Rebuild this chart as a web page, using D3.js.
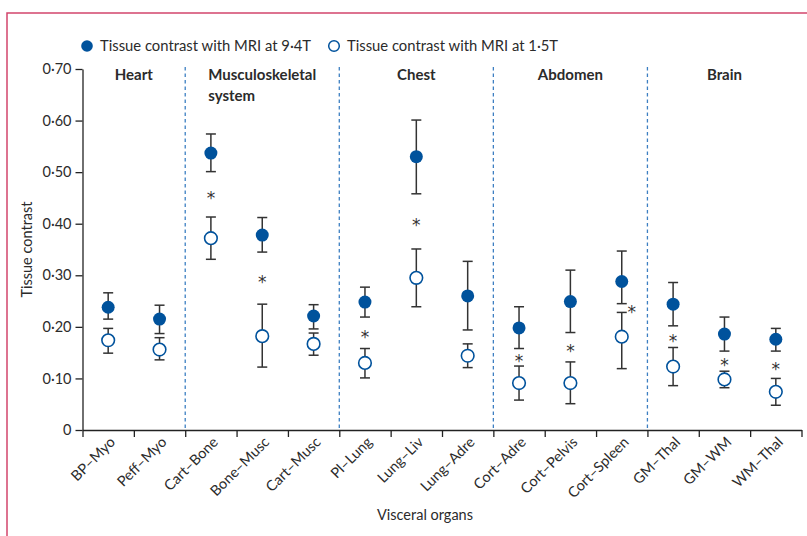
<!DOCTYPE html>
<html>
<head>
<meta charset="utf-8">
<script src="https://cdn.jsdelivr.net/npm/d3@7"></script>
<style>
    body { margin: 0; background: #fff; }
    svg text { font-family: Lato, "Open Sans", sans-serif; fill: #2b2b2b; }
</style>
</head>
<body>
<div id="chart"></div>
<script>
const organList = ["BP–Myo", "Peff–Myo", "Cart–Bone", "Bone–Musc", "Cart–Musc", "Pl–Lung", "Lung–Liv",
    "Lung–Adre", "Cort–Adre", "Cort–Pelvis", "Cort–Spleen", "GM–Thal", "GM–WM", "WM–Thal"];

const groupNames = [["Heart"], ["Musculoskeletal", "system"], ["Chest"], ["Abdomen"], ["Brain"]];
const groupSizes = [2, 3, 3, 3, 3];

// 9.4T: mean, lower and upper error bar
const mean94 = [0.238, 0.215, 0.537, 0.378, 0.221, 0.248, 0.530, 0.260, 0.198, 0.249, 0.288, 0.244, 0.186, 0.176];
const low94 = [0.215, 0.187, 0.501, 0.345, 0.196, 0.219, 0.458, 0.194, 0.158, 0.189, 0.245, 0.202, 0.153, 0.153];
const high94 = [0.266, 0.242, 0.574, 0.412, 0.243, 0.277, 0.601, 0.327, 0.239, 0.310, 0.347, 0.286, 0.219, 0.197];

// 1.5T: mean, lower and upper error bar
const mean15 = [0.174, 0.156, 0.372, 0.182, 0.167, 0.130, 0.295, 0.144, 0.091, 0.091, 0.181, 0.123, 0.098, 0.074];
const low15 = [0.149, 0.136, 0.331, 0.122, 0.145, 0.101, 0.239, 0.121, 0.058, 0.051, 0.119, 0.086, 0.082, 0.048];
const high15 = [0.197, 0.179, 0.413, 0.244, 0.188, 0.158, 0.351, 0.167, 0.124, 0.132, 0.228, 0.160, 0.114, 0.100];

const significant = [false, false, true, true, false, true, true, false, true, true, true, true, true, true];

const yTicks = [0, 0.1, 0.2, 0.3, 0.4, 0.5, 0.6, 0.7];
const legendLabels = ["Tissue contrast with MRI at 9·4T", "Tissue contrast with MRI at 1·5T"];

const blue = "#00529c";
const barColor = "#333";

let width = 807, height = 536;

let data = organList.map((d, i) => ({
    organ: d,
    m94: mean94[i], lo94: low94[i], hi94: high94[i],
    m15: mean15[i], lo15: low15[i], hi15: high15[i],
    sig: significant[i]
}));

let svg = d3.select("#chart").append("svg")
    .attr("width", width)
    .attr("height", height);

// frame
svg.append("path")
    .attr("d", `M7,${height} V13 H${width}`)
    .attr("fill", "none")
    .attr("stroke", "#d2456c")
    .attr("stroke-width", 1.5);

let x = d3.scaleBand()
    .domain(organList)
    .range([82.5, 801.5]);

let xEdge = d3.scaleLinear()
    .domain([0, organList.length])
    .range(x.range());

let y = d3.scaleLinear()
    .domain([0, 0.7])
    .range([430, 69]);

// y axis
let yAxis = svg.append("g")
    .attr("transform", `translate(${x.range()[0]}, 0)`)
    .call(d3.axisLeft(y)
        .tickValues(yTicks)
        .tickSize(7)
        .tickSizeOuter(0)
        .tickPadding(4)
        .tickFormat(d => d === 0 ? "0" : d.toFixed(2).replace(".", "·")));
yAxis.selectAll("text").style("font-size", "14.5px").attr("fill", "#2b2b2b");
yAxis.selectAll("line, path").attr("stroke", "#222").attr("stroke-width", 1.3);

// x axis ticks at band edges
let xAxis = svg.append("g")
    .attr("transform", `translate(0, ${y(0)})`)
    .call(d3.axisBottom(xEdge)
        .tickValues(d3.range(organList.length + 1))
        .tickSize(7)
        .tickSizeOuter(0)
        .tickFormat(""));
xAxis.selectAll("line, path").attr("stroke", "#222").attr("stroke-width", 1.3);

// x labels
svg.append("g")
    .selectAll("text")
    .data(organList)
    .join("text")
    .attr("transform", d => `translate(${x(d) + x.bandwidth() / 2 + 8}, ${y(0) + 13}) rotate(-45)`)
    .attr("text-anchor", "end")
    .style("font-size", "14.5px")
    .text(d => d);

// group dividers and titles
let edges = d3.cumsum(groupSizes);
svg.append("g")
    .selectAll("line")
    .data(edges.slice(0, -1))
    .join("line")
    .attr("x1", d => xEdge(d))
    .attr("x2", d => xEdge(d))
    .attr("y1", y(0.7) - 2)
    .attr("y2", y(0))
    .attr("stroke", "#3d7fc2")
    .attr("stroke-width", 1.3)
    .attr("stroke-dasharray", "3.5,3");

groupNames.forEach((name, i) => {
    let start = i === 0 ? 0 : edges[i - 1];
    let cx = (xEdge(start) + xEdge(edges[i])) / 2;
    let t = svg.append("text")
        .attr("x", cx)
        .attr("y", 80)
        .attr("text-anchor", "middle")
        .style("font-size", "15px")
        .style("font-weight", "bold")
        .text(name[0]);
    if (name.length > 1) {
        let left = cx - t.node().getComputedTextLength() / 2;
        svg.append("text")
            .attr("x", left)
            .attr("y", 101)
            .style("font-size", "15px")
            .style("font-weight", "bold")
            .text(name[1]);
    }
});

let cx = d => x(d.organ) + x.bandwidth() / 2;

// error bars
function errorBars(lo, hi) {
    let g = svg.append("g")
        .attr("stroke", barColor)
        .attr("stroke-width", 1.5);
    g.selectAll("line.v")
        .data(data)
        .join("line")
        .attr("class", "v")
        .attr("x1", cx).attr("x2", cx)
        .attr("y1", d => y(d[lo])).attr("y2", d => y(d[hi]));
    [lo, hi].forEach(k => {
        g.selectAll("line.c" + k)
            .data(data)
            .join("line")
            .attr("class", "c" + k)
            .attr("x1", d => cx(d) - 5).attr("x2", d => cx(d) + 5)
            .attr("y1", d => y(d[k])).attr("y2", d => y(d[k]));
    });
}
errorBars("lo94", "hi94");
errorBars("lo15", "hi15");

svg.append("g")
    .selectAll("circle")
    .data(data)
    .join("circle")
    .attr("cx", cx)
    .attr("cy", d => y(d.m15))
    .attr("r", 6.3)
    .attr("fill", "#fff")
    .attr("stroke", blue)
    .attr("stroke-width", 1.6);

svg.append("g")
    .selectAll("circle")
    .data(data)
    .join("circle")
    .attr("cx", cx)
    .attr("cy", d => y(d.m94))
    .attr("r", 6.5)
    .attr("fill", blue);

// significance stars
svg.append("g")
    .selectAll("text")
    .data(data.filter(d => d.sig))
    .join("text")
    .each(function (d) {
        let top = y(d.lo94), bottom = y(d.hi15);
        let gap = bottom - top;
        let sx = gap < 14 ? cx(d) + 10 : cx(d);
        let sy = (top + bottom) / 2 + 10;
        d3.select(this).attr("x", sx).attr("y", sy);
    })
    .attr("text-anchor", "middle")
    .style("font-family", "'DejaVu Sans', sans-serif")
    .style("font-size", "17px")
    .style("fill", "#333")
    .text("*");

// legend
let legend = svg.append("g").attr("transform", "translate(0, 46)");
legendLabels.forEach((label, i) => {
    let lx = i === 0 ? 87 : 334;
    legend.append("circle")
        .attr("cx", lx)
        .attr("cy", 0)
        .attr("r", i === 0 ? 5.8 : 5.3)
        .attr("fill", i === 0 ? blue : "#fff")
        .attr("stroke", blue)
        .attr("stroke-width", i === 0 ? 0 : 1.5);
    legend.append("text")
        .attr("x", lx + 13)
        .attr("y", 5)
        .style("font-size", "14.8px")
        .text(label);
});

// axis titles
svg.append("text")
    .attr("transform", `translate(32, ${(y(0) + y(0.7)) / 2}) rotate(-90)`)
    .attr("text-anchor", "middle")
    .style("font-size", "14.5px")
    .text("Tissue contrast");

svg.append("text")
    .attr("x", 425)
    .attr("y", 520)
    .attr("text-anchor", "middle")
    .style("font-size", "14.5px")
    .text("Visceral organs");
</script>
</body>
</html>
